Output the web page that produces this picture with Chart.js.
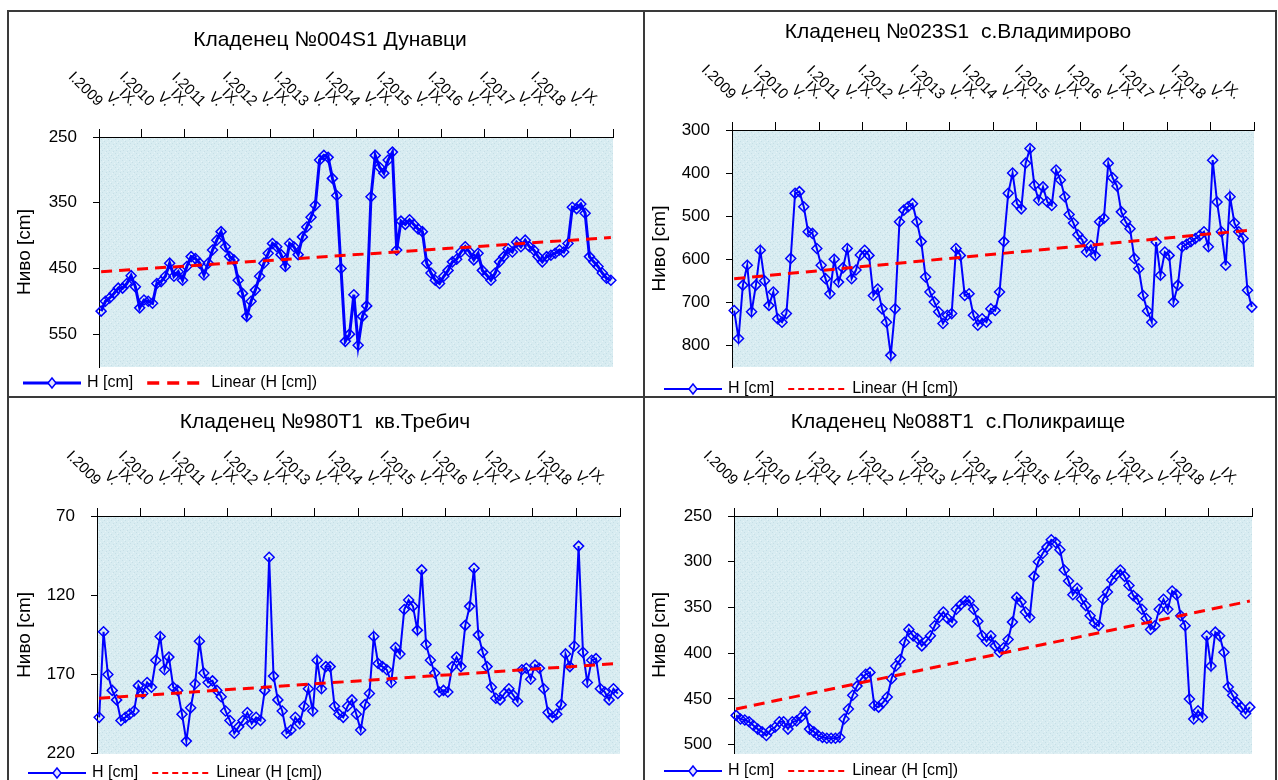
<!DOCTYPE html>
<html>
<head>
<meta charset="utf-8">
<script src="https://cdn.jsdelivr.net/npm/chart.js@4.4.1/dist/chart.umd.min.js"></script>
<style>
  body { margin: 0; background: #fff; width: 1278px; height: 780px; overflow: hidden; position: relative; }
  canvas { position: absolute; }
  .rule { position: absolute; background: #3a3a3a; }
</style>
</head>
<body>
<canvas id="tl" width="634" height="384" style="left:9px;top:12px"></canvas>
<canvas id="tr" width="630" height="384" style="left:645px;top:12px"></canvas>
<canvas id="bl" width="634" height="382" style="left:9px;top:398px"></canvas>
<canvas id="br" width="630" height="382" style="left:645px;top:398px"></canvas>
<div class="rule" style="left:7px;top:10px;width:1270px;height:2px"></div>
<div class="rule" style="left:7px;top:10px;width:2px;height:770px"></div>
<div class="rule" style="left:643px;top:10px;width:2px;height:770px"></div>
<div class="rule" style="left:1275px;top:10px;width:2px;height:770px"></div>
<div class="rule" style="left:7px;top:396px;width:1270px;height:2px"></div>
<script>
// monthly water level, I.2009 - XII.2018, 120 values per well
const yearLabels = ['I.2009', 'I.2010', 'I.2011', 'I.2012', 'I.2013', 'I.2014', 'I.2015', 'I.2016', 'I.2017', 'I.2018'];
const mayLabel = 'V.';
const sepLabel = 'IX.';

const levelsTL = [515, 500, 495, 488, 480, 480, 473, 461, 478, 510,
  498, 500, 503, 473, 470, 462, 442, 462, 455, 468,
  447, 432, 435, 442, 460, 442, 422, 407, 394, 417,
  432, 437, 468, 488, 523, 500, 483, 462, 442, 427,
  412, 417, 429, 447, 412, 417, 429, 402, 387, 372,
  354, 285, 278, 281, 313, 339, 450, 561, 550, 490,
  567, 523, 507, 341, 278, 296, 305, 285, 273, 422,
  378, 383, 376, 383, 390, 394, 442, 457, 468, 473,
  462, 453, 440, 436, 425, 417, 425, 437, 427, 453,
  460, 468, 457, 440, 432, 420, 425, 410, 417, 407,
  417, 422, 432, 440, 432, 430, 427, 422, 425, 412,
  357, 359, 352, 366, 432, 440, 447, 457, 465, 468];

const levelsTR = [719, 784, 660, 614, 722, 660, 579, 650, 707, 676,
  738, 746, 726, 598, 447, 443, 478, 536, 540, 575,
  614, 645, 680, 600, 653, 620, 575, 645, 625, 590,
  579, 591, 684, 669, 715, 746, 823, 715, 513, 486,
  478, 471, 513, 559, 641, 676, 699, 722, 749, 730,
  726, 575, 591, 684, 680, 730, 753, 738, 746, 715,
  719, 676, 559, 447, 400, 471, 483, 377, 343, 428,
  463, 432, 467, 475, 393, 416, 455, 496, 516, 543,
  555, 583, 568, 591, 513, 505, 377, 411, 430, 490,
  513, 529, 598, 622, 684, 720, 746, 560, 637, 583,
  591, 699, 660, 571, 565, 559, 552, 545, 536, 571,
  370, 467, 536, 614, 455, 516, 536, 552, 672, 711];

const levelsBL = [197, 143, 170, 180, 186, 199, 197, 195, 193, 177,
  182, 175, 178, 161, 146, 167, 159, 178, 180, 195,
  212, 191, 176, 149, 169, 175, 174, 180, 184, 193,
  199, 207, 203, 199, 194, 201, 197, 199, 180, 96,
  171, 186, 193, 207, 205, 197, 201, 190, 179, 193,
  161, 179, 165, 165, 190, 195, 197, 190, 186, 195,
  205, 189, 182, 146, 163, 165, 167, 175, 153, 157,
  129, 123, 127, 142, 104, 151, 161, 169, 181, 180,
  181, 165, 159, 165, 139, 127, 103, 145, 156, 165,
  178, 185, 186, 182, 179, 183, 187, 167, 166, 173,
  164, 166, 179, 194, 197, 195, 189, 157, 165, 152,
  89, 156, 175, 161, 160, 179, 181, 186, 179, 182];

const levelsBR = [468, 472, 473, 475, 479, 483, 486, 490, 484, 481,
  475, 475, 483, 475, 474, 470, 464, 483, 486, 490,
  492, 493, 493, 493, 492, 472, 461, 446, 436, 428,
  423, 421, 457, 459, 454, 448, 428, 414, 407, 388,
  374, 381, 384, 392, 387, 381, 370, 361, 355, 362,
  366, 352, 347, 343, 343, 352, 365, 381, 387, 381,
  392, 399, 394, 385, 366, 339, 344, 355, 361, 316,
  300, 291, 284, 276, 279, 287, 309, 321, 336, 329,
  341, 348, 359, 367, 370, 341, 333, 320, 314, 309,
  316, 326, 337, 341, 352, 362, 374, 370, 352, 341,
  352, 332, 336, 359, 370, 450, 472, 463, 470, 381,
  414, 377, 381, 399, 437, 446, 454, 459, 466, 459];

// linear trend, value at first and last month
const trendTL = [455, 403];
const trendTR = [645, 532];
const trendBL = [185, 163];
const trendBR = [461, 343];

const yTicksTL = [250, 350, 450, 550];
const yTicksTR = [300, 400, 500, 600, 700, 800];
const yTicksBL = [70, 120, 170, 220];
const yTicksBR = [250, 300, 350, 400, 450, 500];
const yRangeTL = [250, 600];
const yRangeTR = [300, 850];
const yRangeBL = [70, 220];
const yRangeBR = [250, 510];

const FONT = '"Liberation Sans", Arial, sans-serif';
const BLUE = '#0000ff';
const RED = '#ff0000';

const monthLabels = [];
yearLabels.forEach(y => {
  for (let m = 0; m < 12; m++) {
    monthLabels.push(m === 0 ? y : m === 4 ? mayLabel : m === 8 ? sepLabel : '');
  }
});

function trendSeries(ends, n) {
  return Array.from({ length: n }, (_, i) => i === 0 ? ends[0] : i === n - 1 ? ends[1] : null);
}

function plotFill(ctx) {
  const c = document.createElement('canvas');
  c.width = 7; c.height = 7;
  const g = c.getContext('2d');
  g.fillStyle = '#d8ecf1';
  g.fillRect(0, 0, 7, 7);
  g.fillStyle = '#c6dee6';
  [[1, 1], [4, 3], [2, 5], [6, 6]].forEach(([x, y]) => g.fillRect(x, y, 1, 1));
  g.fillStyle = '#e6f3f7';
  [[5, 0], [0, 4], [3, 2]].forEach(([x, y]) => g.fillRect(x, y, 1, 1));
  return ctx.createPattern(c, 'repeat');
}

function makeDecor(p) {
  return {
    id: 'decor',
    beforeDraw(chart) {
      const { ctx, chartArea: a } = chart;
      ctx.save();
      ctx.fillStyle = plotFill(ctx);
      ctx.fillRect(a.left, a.top, a.right - a.left, a.bottom - a.top);
      ctx.restore();
    },
    afterDraw(chart) {
      const { ctx, chartArea: a } = chart;
      const xs = chart.scales.x;
      ctx.save();
      ctx.fillStyle = '#000';
      ctx.textBaseline = 'middle';

      ctx.font = '21px ' + FONT;
      ctx.textAlign = 'center';
      ctx.fillText(p.title, p.titleX, p.titleY);

      // slanted month labels above the top axis
      ctx.font = '15px ' + FONT;
      ctx.textAlign = 'right';
      monthLabels.forEach((t, i) => {
        if (!t) return;
        ctx.save();
        ctx.translate(xs.getPixelForValue(i) - 1, a.top - 33);
        ctx.rotate(Math.PI / 4);
        ctx.fillText(t, 0, 0);
        ctx.restore();
      });

      ctx.save();
      ctx.translate(p.yTitleX, (a.top + a.bottom) / 2);
      ctx.rotate(-Math.PI / 2);
      ctx.font = '19px ' + FONT;
      ctx.textAlign = 'center';
      ctx.fillText('Ниво [cm]', 0, 0);
      ctx.restore();

      // legend
      let x = p.legX;
      const y = p.legY;
      ctx.font = '16px ' + FONT;
      ctx.textAlign = 'left';
      ctx.strokeStyle = BLUE;
      ctx.lineWidth = p.heavy ? 3 : 2;
      ctx.beginPath(); ctx.moveTo(x, y); ctx.lineTo(x + 58, y); ctx.stroke();
      ctx.lineWidth = 1.5;
      ctx.beginPath();
      ctx.moveTo(x + 29, y - 5); ctx.lineTo(x + 33, y); ctx.lineTo(x + 29, y + 5); ctx.lineTo(x + 25, y);
      ctx.closePath();
      ctx.fillStyle = '#e4e4ff'; ctx.fill(); ctx.stroke();
      ctx.fillStyle = '#000';
      ctx.fillText('H [cm]', x + 64, y);
      x += 64 + ctx.measureText('H [cm]').width + 14;
      ctx.strokeStyle = RED;
      ctx.lineWidth = p.heavy ? 3.5 : 2;
      ctx.setLineDash(p.heavy ? [12, 8] : [6, 4]);
      ctx.beginPath(); ctx.moveTo(x, y); ctx.lineTo(x + 58, y); ctx.stroke();
      ctx.setLineDash([]);
      ctx.fillText('Linear (H [cm])', x + 64, y);
      ctx.restore();
    }
  };
}

const panels = [
  { id: 'tl', title: 'Кладенец №004S1 Дунавци', levels: levelsTL, trend: trendTL, yTicks: yTicksTL, yRange: yRangeTL,
    pad: { left: 30, top: 115, right: 30, bottom: 29 }, titleX: 321, titleY: 28, yTitleX: 16, legX: 14, legY: 371, heavy: true },
  { id: 'tr', title: 'Кладенец №023S1  с.Владимирово', levels: levelsTR, trend: trendTR, yTicks: yTicksTR, yRange: yRangeTR,
    pad: { left: 27, top: 108, right: 21, bottom: 29 }, titleX: 313, titleY: 20, yTitleX: 15, legX: 19, legY: 377, heavy: false },
  { id: 'bl', title: 'Кладенец №980T1  кв.Требич', levels: levelsBL, trend: trendBL, yTicks: yTicksBL, yRange: yRangeBL,
    pad: { left: 28, top: 108, right: 23, bottom: 24 }, titleX: 316, titleY: 24, yTitleX: 16, legX: 19, legY: 375, heavy: false },
  { id: 'br', title: 'Кладенец №088T1  с.Поликраище', levels: levelsBR, trend: trendBR, yTicks: yTicksBR, yRange: yRangeBR,
    pad: { left: 29, top: 108, right: 23, bottom: 24 }, titleX: 313, titleY: 24, yTitleX: 15, legX: 19, legY: 373, heavy: false }
];

panels.forEach(p => {
  new Chart(document.getElementById(p.id), {
    type: 'line',
    data: {
      labels: monthLabels,
      datasets: [
        {
          label: 'H [cm]', data: p.levels, order: 1,
          borderColor: BLUE, borderWidth: p.heavy ? 3 : 2, tension: 0,
          pointStyle: 'rectRot', pointRadius: 5, pointBorderWidth: 1.5,
          pointBorderColor: BLUE, pointBackgroundColor: 'rgba(0,0,0,0)'
        },
        {
          label: 'Linear (H [cm])', data: trendSeries(p.trend, p.levels.length), order: 0,
          borderColor: RED, borderWidth: 3, borderDash: [11, 7], pointRadius: 0, spanGaps: true
        }
      ]
    },
    options: {
      responsive: false,
      animation: false,
      events: [],
      devicePixelRatio: 1,
      layout: { padding: p.pad },
      plugins: { legend: { display: false }, tooltip: { enabled: false }, title: { display: false } },
      scales: {
        x: {
          position: 'top',
          offset: true,
          ticks: { display: false, autoSkip: false },
          grid: {
            offset: true, drawOnChartArea: false, drawTicks: true, tickLength: 8, lineWidth: 1,
            color: c => (c.index === undefined || c.index % 10 === 0) ? '#000' : 'rgba(0,0,0,0)'
          },
          border: { display: true, color: '#000', width: 1 },
          afterFit: s => { s.height = 10; }
        },
        y: {
          reverse: true,
          min: p.yRange[0],
          max: p.yRange[1],
          afterBuildTicks: s => { s.ticks = p.yTicks.map(v => ({ value: v })); },
          afterFit: s => { s.width = 60; },
          ticks: { color: '#000', font: { family: FONT, size: 17 }, padding: 16 },
          grid: { drawOnChartArea: false, tickLength: 6, color: '#000' },
          border: { display: true, color: '#000', width: 1 }
        }
      }
    },
    plugins: [makeDecor(p)]
  });
});
</script>
</body>
</html>
